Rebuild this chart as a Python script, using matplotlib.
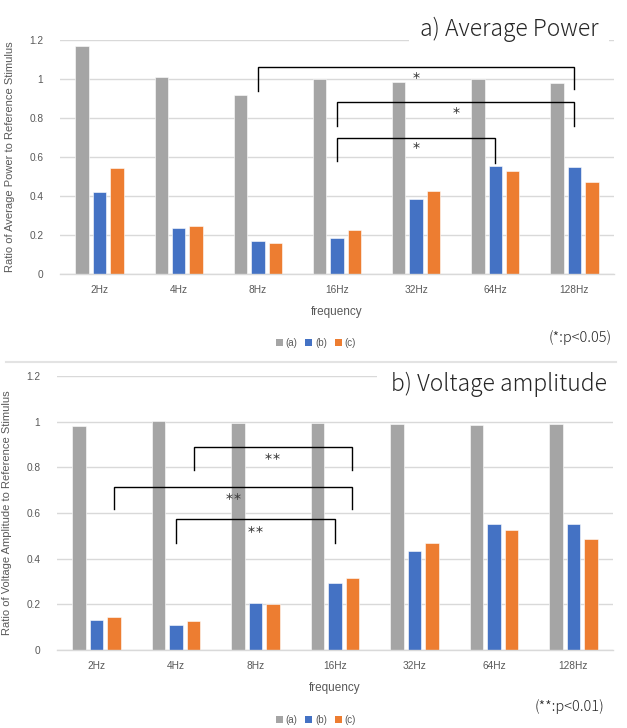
import matplotlib
matplotlib.use("Agg")
import matplotlib.pyplot as plt
import numpy as np
from matplotlib.patches import Patch
from matplotlib.lines import Line2D

# 数据
freqs = ["2Hz", "4Hz", "8Hz", "16Hz", "32Hz", "64Hz", "128Hz"]
series_names = ["(a)", "(b)", "(c)"]

power_a = [1.17, 1.01, 0.92, 1.00, 0.987, 1.00, 0.98]
power_b = [0.423, 0.237, 0.171, 0.187, 0.385, 0.553, 0.547]
power_c = [0.545, 0.248, 0.161, 0.226, 0.424, 0.529, 0.473]

volt_a = [0.982, 1.004, 0.996, 0.996, 0.991, 0.987, 0.991]
volt_b = [0.133, 0.108, 0.208, 0.293, 0.434, 0.553, 0.553]
volt_c = [0.146, 0.128, 0.203, 0.316, 0.468, 0.524, 0.486]

# 显著性括号: (系列序号, 频率序号) -> (系列序号, 频率序号), 横线高度, 两端下垂高度, 标记
power_sig = [
    ((1, 2), (1, 6), 1.06, 0.94, 0.95, "＊"),
    ((1, 3), (1, 6), 0.88, 0.76, 0.76, "＊"),
    ((1, 3), (1, 5), 0.70, 0.58, 0.57, "＊"),
]
volt_sig = [
    ((2, 1), (2, 3), 0.889, 0.79, 0.79, "＊＊"),
    ((2, 0), (2, 3), 0.716, 0.617, 0.617, "＊＊"),
    ((1, 1), (1, 3), 0.573, 0.47, 0.47, "＊＊"),
]

COLORS = ["#a5a5a5", "#4472c4", "#ed7d31"]
GRID = "#d9d9d9"
TXT = "#595959"
BAR_W = 0.17
OFFS = [-0.22, 0.0, 0.22]

plt.rcParams["font.family"] = ["Liberation Sans", "DejaVu Sans"]
JP = ["Noto Sans CJK JP", "DejaVu Sans"]

W, H = 627, 728
fig = plt.figure(figsize=(W / 100, H / 100), dpi=100)


def px_axes(left, right, y0, y1):
    # 像素坐标 -> figure 比例
    return fig.add_axes([left / W, (H - y0) / H, (right - left) / W, (y0 - y1) / H])


def draw_panel(ax, data, ylabel, sig):
    x = np.arange(len(freqs))
    for i, vals in enumerate(data):
        ax.bar(x + OFFS[i], vals, BAR_W, color=COLORS[i], zorder=2,
               edgecolor="white", linewidth=0.4)
    ax.set_xlim(-0.5, len(freqs) - 0.5)
    ax.set_ylim(0, 1.2)
    ax.set_yticks(np.arange(0, 1.21, 0.2))
    ax.set_yticklabels(["0", "0.2", "0.4", "0.6", "0.8", "1", "1.2"])
    ax.set_xticks(x)
    ax.set_xticklabels(freqs)
    ax.yaxis.grid(True, color=GRID, linewidth=1.0, zorder=0)
    ax.set_axisbelow(True)
    for s in ["top", "right", "left"]:
        ax.spines[s].set_visible(False)
    ax.spines["bottom"].set_color(GRID)
    ax.spines["bottom"].set_linewidth(1.0)
    ax.tick_params(axis="both", length=0, colors=TXT, labelsize=7.3)
    ax.tick_params(axis="y", pad=12)
    ax.tick_params(axis="x", pad=8)
    ax.set_xlabel("frequency", color=TXT, fontsize=8.5, labelpad=8)
    ax.set_ylabel(ylabel, color=TXT, fontsize=8, labelpad=10)
    for (s0, f0), (s1, f1), top, d0, d1, mark in sig:
        xa = f0 + OFFS[s0]
        xb = f1 + OFFS[s1]
        ax.plot([xa, xa, xb, xb], [d0, top, top, d1], color="black",
                linewidth=1.0, zorder=3, solid_joinstyle="miter")
        ax.text((xa + xb) / 2, top - 0.048, mark, ha="center", va="center",
                fontsize=6.5, family=JP, weight="bold", color="#404040", zorder=4)


ax1 = px_axes(60, 614, 274, 40)
draw_panel(ax1, [power_a, power_b, power_c],
           "Ratio of Average Power to Reference Stimulus", power_sig)

ax2 = px_axes(57, 613, 650, 376)
draw_panel(ax2, [volt_a, volt_b, volt_c],
           "Ratio of Voltage Amplitude to Reference Stimulus", volt_sig)

# 标题（白底遮住网格线）
fig.text(598 / W, 1 - 29 / H, "a) Average Power", ha="right", va="center",
         fontsize=16.5, family=JP, weight="light", color="#262626",
         bbox=dict(facecolor="white", edgecolor="none", pad=8))
fig.text(607 / W, 1 - 384 / H, "b) Voltage amplitude", ha="right", va="center",
         fontsize=16.5, family=JP, weight="light", color="#262626",
         bbox=dict(facecolor="white", edgecolor="none", pad=10))

# p 值说明
fig.text(612 / W, 1 - 338 / H, "(*:p<0.05)", ha="right", va="center",
         fontsize=10.5, family=JP, weight="light", color="#262626")
fig.text(604 / W, 1 - 707 / H, "(**:p<0.01)", ha="right", va="center",
         fontsize=10.5, family=JP, weight="light", color="#262626")

# 图例
handles = [Patch(facecolor=c, edgecolor="none") for c in COLORS]
for yy in (343, 720):
    fig.legend(handles, series_names, loc="center", bbox_to_anchor=(316 / W, 1 - yy / H),
               ncol=3, frameon=False, fontsize=7, handlelength=0.7, handleheight=0.7,
               handletextpad=0.3, columnspacing=0.8, labelcolor=TXT)

# 两图之间的分隔线
fig.add_artist(Line2D([6 / W, 616 / W], [1 - 362 / H, 1 - 362 / H],
                      color="#e3e3e3", linewidth=1.5, zorder=10))

fig.savefig("out.png", dpi=100)
